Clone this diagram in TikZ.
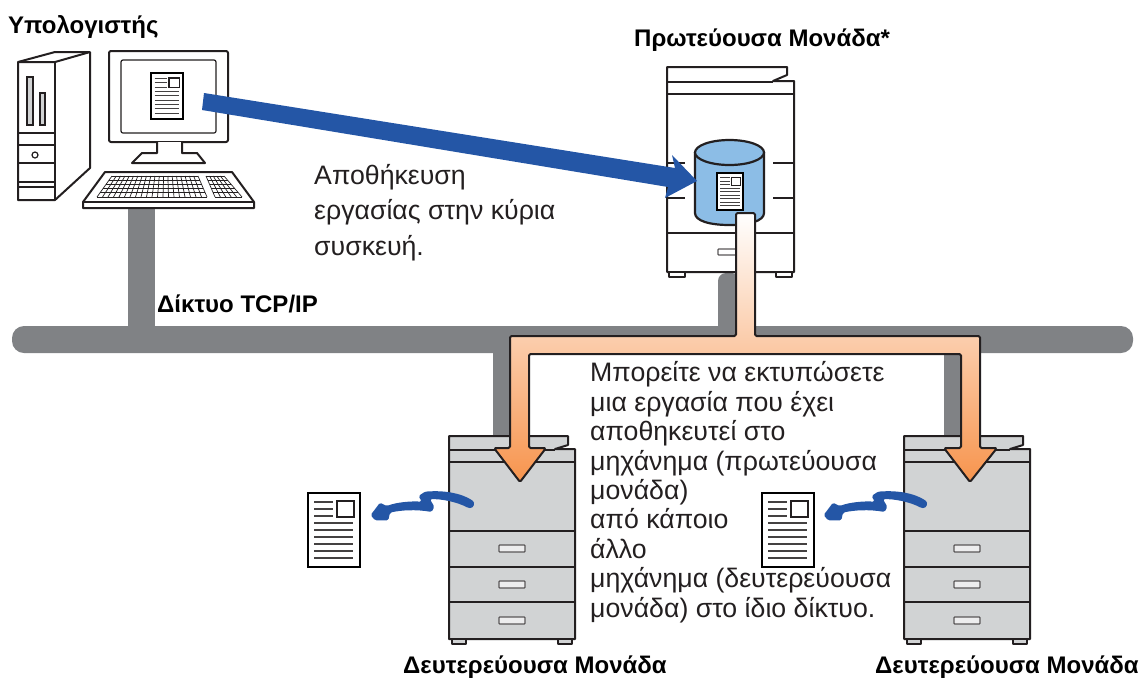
\documentclass[tikz,border=0pt]{standalone}
\usepackage{fontspec}
\setmainfont{Liberation Sans}
\definecolor{busgray}{HTML}{808285}
\definecolor{bodygray}{HTML}{D1D3D4}
\definecolor{inkline}{HTML}{231F20}
\definecolor{arrowblue}{HTML}{2456A6}
\definecolor{cylblue}{HTML}{8CBDE6}
\definecolor{pipemid}{HTML}{FCC89B}
\definecolor{pipeend}{HTML}{F7944D}
\tikzset{
  bus/.style={fill=busgray,draw=none},
  ink/.style={draw=inkline,line width=2pt,line join=round},
  thin ink/.style={draw=inkline,line width=1.2pt},
  title/.style={font=\fontsize{24}{28}\bfseries\selectfont,inner sep=0pt,anchor=base west},
  bodytext/.style={font=\fontsize{26.7}{29.4}\selectfont,inner sep=0pt,anchor=north west,align=left,text=inkline},
  pics/docpage/.style={code={
    \draw[draw=black,fill=white,line width=#1*2.6pt] (0,0) rectangle (52,74);
    \draw[draw=inkline,line width=#1*1.8pt] (29,8) rectangle (46,24);
    \foreach \yy in {9,16,23}{\draw[draw=inkline!85,line width=#1*1.7pt] (6,\yy) -- (25,\yy);}
    \foreach \yy in {30,37,44,51,58,65}{\draw[draw=inkline!85,line width=#1*1.7pt] (6,\yy) -- (45,\yy);}
  }},
  pics/copier/.style={code={
    \draw[ink,fill=bodygray] (0,0) -- (119,0) -- (119,9) -- (106,13) -- (126,13) -- (126,203) -- (0,203) -- cycle;
    \draw[ink,fill=bodygray] (3,203) rectangle (17,208);
    \draw[ink,fill=bodygray] (109,203) rectangle (123,208);
    \draw[thin ink] (0,14) -- (106,14);
    \draw[thin ink] (0,26) -- (126,26);
    \draw[thin ink] (0,95) -- (126,95);
    \draw[thin ink] (0,131) -- (126,131);
    \draw[thin ink] (0,166) -- (126,166);
    \foreach \yy in {109,145,181}{\draw[draw=inkline!75,fill=bodygray!40,line width=1.2pt,rounded corners=.8pt] (50,\yy) rectangle (76,\yy+7);}
  }},
  pics/curvy/.style={code={
    \fill[arrowblue,rounded corners=1.5pt] (242,525) -- (270,488) -- (290,498) .. controls (320,487) and (360,483) .. (395,485)
      -- (386,468) -- (405,455) .. controls (470,450) and (515,462) .. (545,480)
      .. controls (556,488) and (552,505) .. (535,504)
      .. controls (500,485) and (450,476) .. (420,478) -- (433,500) -- (425,516)
      .. controls (380,508) and (335,510) .. (300,518) -- (295,541) -- (255,541) -- cycle;
  }}
}
\begin{document}
\begin{tikzpicture}[x=1pt,y=-1pt]
\useasboundingbox (0,0) rectangle (1139,678);
% network
\fill[bus,rounded corners=12pt] (12,326) rectangle (1133,353);
\fill[bus] (128,205) rectangle (155,330);
\fill[bus,rounded corners=8pt] (718,335) -- (718,273) -- (740,273) -- (740,335) -- cycle;
\fill[bus] (493,350) rectangle (512,437);
\fill[bus] (944,350) rectangle (963,437);
% tower
\draw[ink,fill=white] (18,62) -- (55,52) -- (90,52) -- (90,168) -- (55,200) -- (18,200) -- cycle;
\draw[ink] (18,62) -- (55,62) -- (90,52);
\draw[ink] (55,62) -- (55,200);
\draw[thin ink] (18,133) -- (55,133) (18,145) -- (55,145) (18,163) -- (55,163) (18,182) -- (55,182) (18,187) -- (55,187);
\draw[thin ink,fill=bodygray] (27,77) rectangle (33,125);
\draw[thin ink,fill=bodygray] (40,93) rectangle (45,125);
\draw[thin ink] (35,155) circle[radius=3pt];
% monitor
\draw[ink,fill=white,rounded corners=2pt] (109,51) rectangle (228,142);
\draw[thin ink,rounded corners=2pt] (121,60) rectangle (216,133);
\pic[scale=.62] at (151,73) {docpage=.62};
\draw[ink,fill=white] (157,142) -- (157,153) -- (142,153) -- (132,163) -- (205,163) -- (197,153) -- (182,153) -- (182,142);
\draw[ink,fill=white] (105,172) -- (232,172) -- (254,202) -- (254,208) -- (83,208) -- (83,202) -- cycle;
\draw[thin ink] (83,202) -- (254,202);
\foreach \ii in {0,...,20}{\draw[draw=inkline,line width=.7pt] ({112+\ii*4.3},176) -- ({97+\ii*5.5},197);}
\foreach \jj in {0,...,5}{\draw[draw=inkline,line width=.7pt] ({112-3*\jj},{176+4.2*\jj}) -- ({198+1.8*\jj},{176+4.2*\jj});}
\foreach \ii in {0,...,5}{\draw[draw=inkline,line width=.7pt] ({206+\ii*3.6},176) -- ({215+\ii*5.4},197);}
\foreach \jj in {0,...,5}{\draw[draw=inkline,line width=.7pt] ({206+1.8*\jj},{176+4.2*\jj}) -- ({224+3.6*\jj},{176+4.2*\jj});}
% primary machine
\draw[ink,fill=white] (667,67) -- (787,67) -- (787,75) -- (773,81) -- (794,81) -- (794,272) -- (667,272) -- cycle;
\draw[ink,fill=white] (669,272) rectangle (685,277);
\draw[ink,fill=white] (776,272) rectangle (792,277);
\draw[thin ink] (667,82) -- (773,82) (667,94) -- (794,94) (667,233) -- (794,233);
\draw[thin ink] (667,163) -- (685,163) (773,163) -- (794,163) (667,198) -- (685,198) (773,198) -- (794,198);
\draw[draw=inkline!75,line width=1.2pt,rounded corners=.8pt] (718,249) rectangle (745,255);
% cylinder
\draw[ink,fill=cylblue,line width=2.2pt] (695,152) -- (695,213) .. controls (695,221) and (710,225) .. (729.5,225) .. controls (749,225) and (764,221) .. (764,213) -- (764,152);
\draw[ink,fill=cylblue,line width=2.2pt] (729.5,152.5) ellipse[x radius=34.5pt,y radius=12.5pt];
\pic[scale=.5] at (717,173) {docpage=.5};
% blue arrow
\fill[arrowblue] (204,93) -- (675,168) -- (672,155) -- (697,181) -- (665,198) -- (668,187) -- (202,110) -- cycle;
% secondary machines
\pic at (449,436) {copier};
\pic at (904,436) {copier};
% orange pipe
\shade[top color=white,middle color=pipemid,bottom color=pipeend,draw=inkline,line width=2pt,line join=round,rounded corners=1.5pt]
  (736,213) -- (736,336) -- (510,336) -- (510,448) -- (494,448) -- (520,482) -- (546,448) -- (529,448) -- (529,354)
  -- (961,354) -- (961,448) -- (944,448) -- (970,482) -- (997,448) -- (980,448) -- (980,336) -- (755,336) -- (755,213) -- cycle;
% printed pages
\pic at (308,493) {docpage=1};
\pic at (762,493) {docpage=1};
\pic[scale=.3333] at (290,340) {curvy};
\pic[scale=.3333] at (743,340) {curvy};
% texts
\node[title] (computer) at (8,33) {Υπολογιστής};
\node[title] (primary) at (634,46) {Πρωτεύουσα Μονάδα*};
\node[title] (tcpip) at (157,312) {Δίκτυο TCP/IP};
\node[title] (secondaryA) at (403,673) {Δευτερεύουσα Μονάδα};
\node[title] (secondaryB) at (875,673) {Δευτερεύουσα Μονάδα};
\node[bodytext,font=\fontsize{26.7}{35.5}\selectfont] (store) at (314,164) {Αποθήκευση\\εργασίας στην κύρια\\συσκευή.};
\node[bodytext] (print) at (590,361.5) {Μπορείτε να εκτυπώσετε\\μια εργασία που έχει\\αποθηκευτεί στο\\μηχάνημα (πρωτεύουσα\\μονάδα)\\από κάποιο\\άλλο\\μηχάνημα (δευτερεύουσα\\μονάδα) στο ίδιο δίκτυο.};
\end{tikzpicture}
\end{document}
